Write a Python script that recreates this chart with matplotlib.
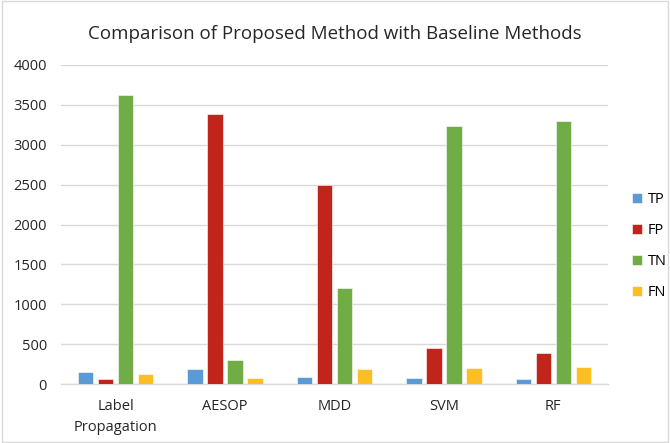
import matplotlib
matplotlib.use("Agg")
import matplotlib.pyplot as plt
from matplotlib.patches import Rectangle
import numpy as np

# ── data ──────────────────────────────────────────────────────────────────────
methods = ["Label\nPropagation", "AESOP", "MDD", "SVM", "RF"]
tp = [150, 190, 92, 72, 60]
fp = [60, 3390, 2490, 450, 390]
tn = [3630, 300, 1200, 3240, 3300]
fn = [130, 80, 185, 200, 213]

series = [("TP", tp, "#5B9BD5"),
          ("FP", fp, "#C0241A"),
          ("TN", tn, "#70AD47"),
          ("FN", fn, "#FBBF24")]

plt.rcParams["font.family"] = ["Open Sans", "DejaVu Sans"]

fig = plt.figure(figsize=(6.7, 4.43), dpi=100)
ax = fig.add_axes([61 / 670, 1 - 384 / 443, 547 / 670, (384 - 65) / 443])

x = np.arange(len(methods))
width = 0.14
step = 0.183
for i, (name, vals, color) in enumerate(series):
    ax.bar(x + (i - 1.5) * step, vals, width, color=color, label=name,
           edgecolor="white", linewidth=0.4, zorder=3)

ax.set_xlim(-0.5, len(methods) - 0.5)
ax.set_ylim(0, 4000)
ax.set_yticks(np.arange(0, 4001, 500))
ax.set_xticks(x)
ax.set_xticklabels(methods, fontsize=10.5, color="#262626", linespacing=1.5)
ax.tick_params(axis="y", labelsize=10.5, colors="#262626", length=0, pad=10)
ax.tick_params(axis="x", length=0, pad=11)
ax.grid(axis="y", color="#D9D9D9", lw=1.0, zorder=0)
for s in ["top", "right", "left"]:
    ax.spines[s].set_visible(False)
ax.spines["bottom"].set_color("#D9D9D9")
ax.spines["bottom"].set_linewidth(1.0)

fig.text(0.5, 1 - 34 / 443, "Comparison of Proposed Method with Baseline Methods",
         ha="center", va="center", fontsize=13.5, color="#262626")

handles, labels = ax.get_legend_handles_labels()
fig.legend(handles, labels, loc="center left", bbox_to_anchor=(626 / 670, 1 - 246 / 443),
           frameon=False, fontsize=10.5, handlelength=0.7, handleheight=0.7,
           handletextpad=0.4, labelspacing=1.1, borderaxespad=0)

fig.patches.append(Rectangle((0.003, 0.003), 0.994, 0.994, transform=fig.transFigure,
                             fill=False, edgecolor="#D9D9D9", lw=1.0))

fig.savefig("out.png", dpi=100)
